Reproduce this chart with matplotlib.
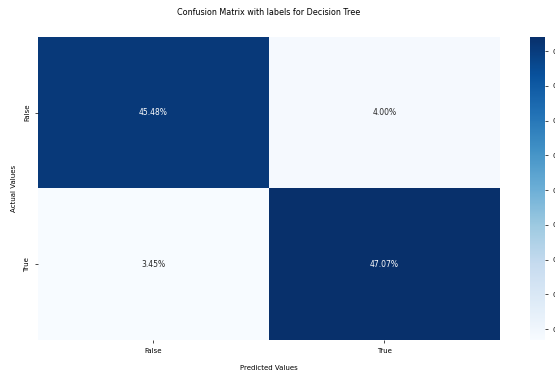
import numpy as np
import matplotlib
matplotlib.use('Agg')
import matplotlib.pyplot as plt
import seaborn as sns

# share of each outcome over all test samples
class_names = ['False', 'True']
cm_fractions = [[0.4548, 0.0400],
                [0.0345, 0.4707]]

cf = np.array(cm_fractions)
labels = np.array([f'{v:.2%}' for v in cf.flatten()]).reshape(2, 2)

fig = plt.figure(figsize=(5.55, 3.72), dpi=100)
ax = fig.add_axes([0.068, 0.086, 0.833, 0.815])
cax = fig.add_axes([0.955, 0.086, 0.027, 0.815])

sns.heatmap(cf, annot=labels, fmt='', cmap='Blues', ax=ax, cbar_ax=cax,
            annot_kws={'fontsize': 5.5},
            xticklabels=class_names, yticklabels=class_names)

ax.set_title('Confusion Matrix with labels for Decision Tree', fontsize=5.8, pad=16)
ax.set_xlabel('Predicted Values', fontsize=5, labelpad=8)
ax.set_ylabel('Actual Values', fontsize=5, labelpad=5)
ax.tick_params(labelsize=5, length=2, width=0.5)
cax.tick_params(labelsize=5, length=2, width=0.5)
cax.set_yticks(np.arange(0.05, 0.46, 0.05))

fig.savefig('out.png', dpi=100)
